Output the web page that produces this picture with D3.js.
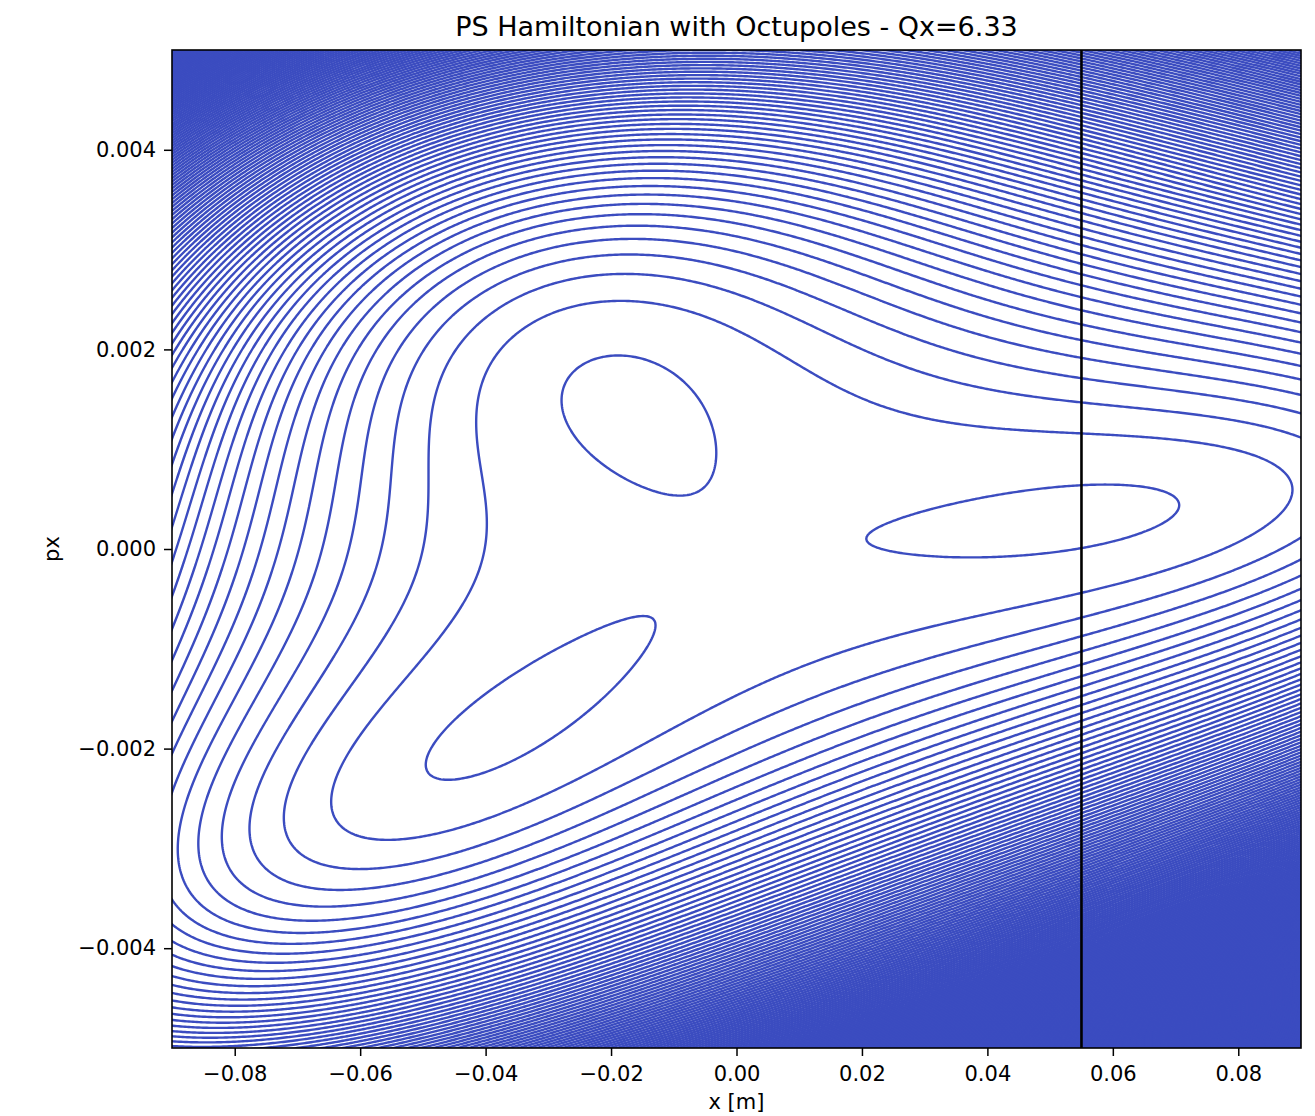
<!DOCTYPE html>
<html>
<head>
<meta charset="utf-8">
<script src="https://cdn.jsdelivr.net/npm/d3@7"></script>
<style>
	body { margin: 0; background: #fff; }
	text { font-family: "DejaVu Sans", sans-serif; fill: #000; }
</style>
</head>
<body>
<div id="chart"></div>
<script>
// axis ranges and ticks
const xDomain = [-0.09, 0.09];
const pxDomain = [-0.005, 0.005];
const xTicks = [-0.08, -0.06, -0.04, -0.02, 0.00, 0.02, 0.04, 0.06, 0.08];
const pxTicks = [-0.004, -0.002, 0.000, 0.002, 0.004];

// island axes (x, px), one per resonance phase
const islandX = [0.0540, -0.0183, -0.0374];
const islandPx = [0.000346, 0.00150, -0.00175];
const islandPhase = [0, 120, 240];

// H = a r^2 + b r^3 cos(3 phi) + c r^4 in normalised coordinates
const hamCoef = [0.3, -1.5333, 1.0];
const levelStart = -0.02;
const levelStep = 1.175;

const apertureX = [0.055];

const title = "PS Hamiltonian with Octupoles - Qx=6.33";
const lineColor = "#3b4cc0";

const margin = {top: 50, right: 14, bottom: 68, left: 172};
const chartWidth = 1129, chartHeight = 998;

// linear map normalised -> physical, least squares on the three island axes
const M = [[0, 0], [0, 0]];
islandPhase.forEach((ph, k) => {
	const c = Math.cos(ph * Math.PI / 180), s = Math.sin(ph * Math.PI / 180);
	M[0][0] += 2 / 3 * islandX[k] * c;
	M[0][1] += 2 / 3 * islandX[k] * s;
	M[1][0] += 2 / 3 * islandPx[k] * c;
	M[1][1] += 2 / 3 * islandPx[k] * s;
});
const det = M[0][0] * M[1][1] - M[0][1] * M[1][0];

function hamiltonian(xv, pv) {
	const X = (M[1][1] * xv - M[0][1] * pv) / det;
	const P = (-M[1][0] * xv + M[0][0] * pv) / det;
	const r2 = X * X + P * P;
	const r = Math.sqrt(r2);
	const phi = Math.atan2(P, X);
	return hamCoef[0] * r2 + hamCoef[1] * r2 * r * Math.cos(3 * phi) + hamCoef[2] * r2 * r2;
}

const svg = d3.select("#chart").append("svg")
	.attr("width", chartWidth + margin.left + margin.right)
	.attr("height", chartHeight + margin.top + margin.bottom)
	.append("g")
	.attr("transform", `translate(${margin.left}, ${margin.top})`);

const x = d3.scaleLinear().domain(xDomain).range([0, chartWidth]);
const y = d3.scaleLinear().domain(pxDomain).range([chartHeight, 0]);

// sample grid, a few cells wider than the axes so the borders get clipped
const step = 2, pad = 3;
const nx = Math.ceil(chartWidth / step) + 2 * pad;
const ny = Math.ceil(chartHeight / step) + 2 * pad;
const gridX = d3.scaleLinear().domain([0, nx]).range([x.invert(-pad * step), x.invert((nx - pad) * step)]);
const gridY = d3.scaleLinear().domain([0, ny]).range([y.invert(-pad * step), y.invert((ny - pad) * step)]);

const values = new Float64Array(nx * ny);
let hMax = -Infinity;
for (let j = 0; j < ny; j++) {
	for (let i = 0; i < nx; i++) {
		const h = hamiltonian(gridX(i + 0.5), gridY(j + 0.5));
		values[j * nx + i] = h;
		if (h > hMax) hMax = h;
	}
}
const levels = d3.range(levelStart, hMax, levelStep);

const contours = d3.contours().size([nx, ny]).thresholds(levels)(values);
const path = d3.geoPath(d3.geoTransform({
	point: function (gx, gy) { this.stream.point(x(gridX(gx)), y(gridY(gy))); }
}));

svg.append("clipPath").attr("id", "plotClip")
	.append("rect").attr("width", chartWidth).attr("height", chartHeight);

svg.append("g")
	.attr("clip-path", "url(#plotClip)")
	.selectAll("path")
	.data(contours)
	.enter()
	.append("path")
	.attr("d", path)
	.attr("fill", "none")
	.attr("stroke", lineColor)
	.attr("stroke-width", 2.4);

svg.selectAll(".aperture")
	.data(apertureX)
	.enter()
	.append("line")
	.attr("x1", d => x(d)).attr("x2", d => x(d))
	.attr("y1", 0).attr("y2", chartHeight)
	.attr("stroke", "#000")
	.attr("stroke-width", 2.6);

// frame
svg.append("rect")
	.attr("width", chartWidth).attr("height", chartHeight)
	.attr("fill", "none").attr("stroke", "#000").attr("stroke-width", 1.6);

const xAxis = d3.axisBottom(x).tickValues(xTicks).tickFormat(d3.format(".2f")).tickSize(8).tickPadding(10);
const yAxis = d3.axisLeft(y).tickValues(pxTicks).tickFormat(d3.format(".3f")).tickSize(8).tickPadding(8);

const gx = svg.append("g").attr("transform", `translate(0, ${chartHeight})`).call(xAxis);
const gy = svg.append("g").call(yAxis);
[gx, gy].forEach(g => {
	g.select(".domain").remove();
	g.selectAll(".tick line").attr("stroke", "#000").attr("stroke-width", 1.5);
	g.selectAll(".tick text").style("font-size", "21px").attr("fill", "#000");
});

svg.append("text")
	.attr("x", chartWidth / 2).attr("y", -14)
	.style("text-anchor", "middle").style("font-size", "27px")
	.text(title);

svg.append("text")
	.attr("x", chartWidth / 2).attr("y", chartHeight + 61)
	.style("text-anchor", "middle").style("font-size", "21px")
	.text("x [m]");

svg.append("text")
	.attr("transform", "rotate(-90)")
	.attr("x", -chartHeight / 2).attr("y", -113)
	.style("text-anchor", "middle").style("font-size", "21px")
	.text("px");
</script>
</body>
</html>
